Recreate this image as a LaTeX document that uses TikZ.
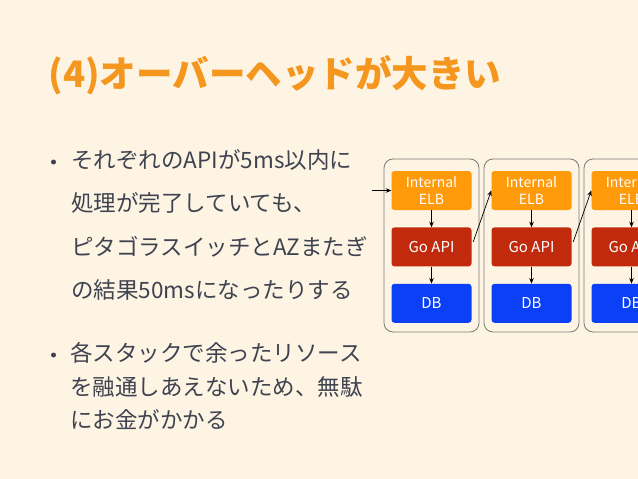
\documentclass[tikz,border=0pt]{standalone}
\usepackage{fontspec}
\setmainfont{Noto Sans CJK JP}
\usepackage{xcolor}
\usetikzlibrary{arrows.meta}
\usetikzlibrary{positioning}
\definecolor{bgcream}{HTML}{FDF4E3}
\definecolor{titleorange}{HTML}{F5961E}
\definecolor{bodygray}{HTML}{3F4350}
\definecolor{elborange}{HTML}{FF9A0A}
\definecolor{apired}{HTML}{C22A0D}
\definecolor{dbblue}{HTML}{0B40F6}
\definecolor{stackgray}{HTML}{7A7A7A}

\begin{document}
\begin{tikzpicture}[x=1pt,y=-1pt,
  bodytext/.style={anchor=north west,inner sep=0pt,align=left,text=bodygray},
  bulletdot/.style={circle,fill=bodygray,inner sep=0pt,minimum size=5pt},
  stack/.style={draw=stackgray,line width=0.8pt,rounded corners=9pt,minimum width=95pt,minimum height=173pt},
  comp/.style={rounded corners=3pt,minimum width=80pt,minimum height=39pt,inner sep=0pt,
    text=white,align=center,font=\fontsize{14}{17}\selectfont},
  link/.style={-{Stealth[length=5.5pt,width=4.5pt]},line width=0.7pt}]
\useasboundingbox (0,0) rectangle (638,479);
\fill[bgcream] (0,0) rectangle (638,479);
\clip (0,0) rectangle (638,479);
\node[anchor=west,text=titleorange,font=\fontsize{36.5}{40}\bfseries\selectfont] (title) at (45,75) {(4)オーバーヘッドが大きい};
\node[bulletdot] (dot1) at (53.5,162) {};
\node[bodytext,font=\fontsize{22.5}{43.5}\selectfont] (point1) at (71,149)
  {それぞれのAPIが5ms以内に\\処理が完了していても、\\ピタゴラスイッチとAZまたぎ\\の結果50msになったりする};
\node[bulletdot] (dot2) at (53.5,355) {};
\node[bodytext,font=\fontsize{22.5}{33.5}\selectfont] (point2) at (70,342.5)
  {各スタックで余ったリソース\\を融通しあえないため、無駄\\にお金がかかる};
\foreach \i/\x in {1/431.5,2/531.5,3/631.5} {
  \node[stack] (stack\i) at (\x,245.5) {};
  \node[comp,fill=elborange] (elb\i) at (\x,190.5) {Internal\\ELB};
  \node[comp,fill=apired,font=\fontsize{15}{17}\selectfont,below=17pt of elb\i] (api\i) {Go API};
  \node[comp,fill=dbblue,font=\fontsize{15}{17}\selectfont,below=17pt of api\i] (db\i) {DB};
  \draw[link] (elb\i) -- (api\i);
  \draw[link] (api\i) -- (db\i);
}
\coordinate (entry) at (372,190.5);
\draw[link] (entry) -- (elb1.west);
\draw[link] ([xshift=1.5pt,yshift=5pt]api1.east) -- (elb2.west);
\draw[link] ([xshift=1.5pt,yshift=5pt]api2.east) -- (elb3.west);
\end{tikzpicture}
\end{document}
